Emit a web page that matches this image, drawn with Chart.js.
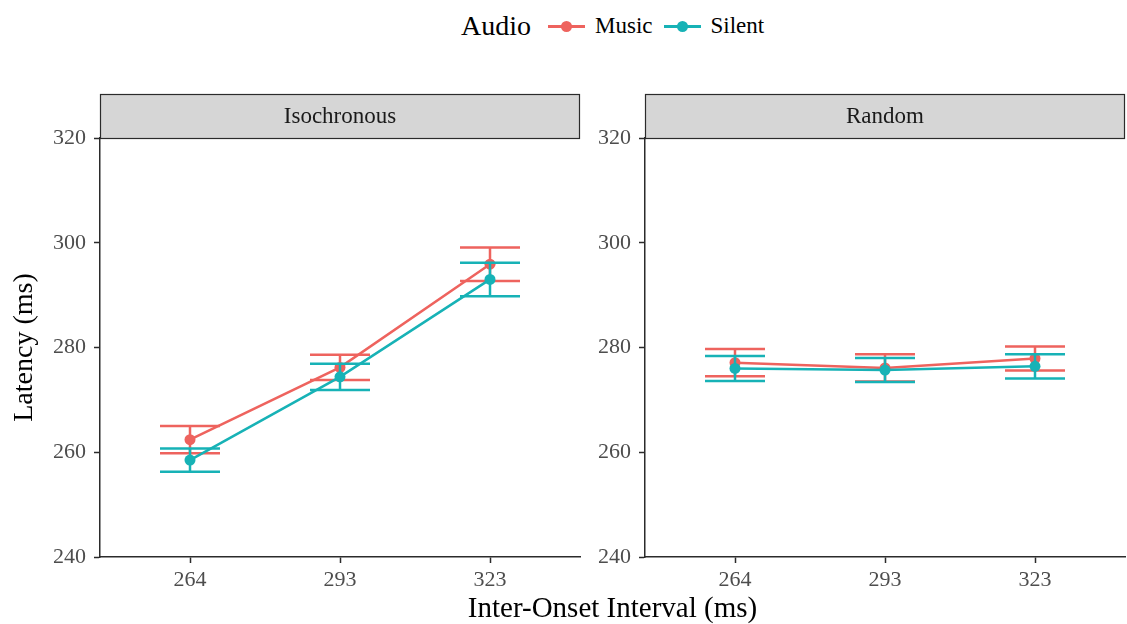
<!DOCTYPE html>
<html>
<head>
<meta charset="utf-8">
<script src="https://cdn.jsdelivr.net/npm/chart.js@4.4.1/dist/chart.umd.min.js"></script>
<style>
    body { margin: 0; background: #fff; width: 1127px; height: 624px; position: relative; overflow: hidden; font-family: 'Liberation Serif', serif; }
    .panel { position: absolute; top: 90px; height: 510px; }
    #left { left: 0; width: 582px; }
    #right { left: 545px; width: 582px; }
    #legend { position: absolute; top: 10px; left: 461px; display: flex; align-items: center; white-space: nowrap; }
    #legend .title { font-size: 28px; color: #000; margin-right: 17px; }
    #legend .lab { font-size: 23px; color: #000; margin-left: 10px; margin-right: 11px; }
    .key { position: relative; width: 37px; height: 20px; }
    .key .ln { position: absolute; left: 0; right: 0; top: 9px; height: 2.5px; }
    .key .dot { position: absolute; left: 13px; top: 5px; width: 11px; height: 11px; border-radius: 50%; }
    #xtitle { position: absolute; left: 100px; width: 1025px; top: 591px; text-align: center; font-size: 29px; color: #000; }
</style>
</head>
<body>
<div id="legend">
    <span class="title">Audio</span>
    <div class="key"><div class="ln" style="background:#EE635E"></div><div class="dot" style="background:#EE635E"></div></div>
    <span class="lab">Music</span>
    <div class="key"><div class="ln" style="background:#17B2B6"></div><div class="dot" style="background:#17B2B6"></div></div>
    <span class="lab">Silent</span>
</div>
<div class="panel" id="left"><canvas id="isoChart"></canvas></div>
<div class="panel" id="right"><canvas id="randChart"></canvas></div>
<div id="xtitle">Inter-Onset Interval (ms)</div>
<script>
// inter-onset intervals (x categories)
const ioi = ['264', '293', '323'];
const yTicks = [240, 260, 280, 300, 320];

// Isochronous panel: mean latency and error half-width
const isoMusic = [262.4, 276.2, 295.9];
const isoMusicErr = [2.6, 2.4, 3.2];
const isoSilent = [258.5, 274.4, 293.0];
const isoSilentErr = [2.2, 2.5, 3.2];

// Random panel
const randMusic = [277.1, 276.1, 277.9];
const randMusicErr = [2.6, 2.6, 2.3];
const randSilent = [276.0, 275.7, 276.4];
const randSilentErr = [2.4, 2.3, 2.3];

const MUSIC = '#EE635E';
const SILENT = '#17B2B6';
const FONT = "'Liberation Serif', serif";
const AXIS = '#2b2b2b';

// draws error bars of a dataset just before the dataset itself
const errorBars = {
    id: 'errorBars',
    beforeDatasetDraw(chart, args) {
        const ds = chart.data.datasets[args.index];
        if (!ds.err) return;
        const ctx = chart.ctx;
        const xs = chart.scales.x, ys = chart.scales.y;
        ctx.save();
        ctx.strokeStyle = ds.borderColor;
        ctx.lineWidth = 2.5;
        ds.data.forEach((p, i) => {
            const e = ds.err[i];
            const x0 = xs.getPixelForValue(p.x - 0.2);
            const x1 = xs.getPixelForValue(p.x + 0.2);
            const xc = xs.getPixelForValue(p.x);
            const yt = ys.getPixelForValue(p.y + e);
            const yb = ys.getPixelForValue(p.y - e);
            ctx.beginPath();
            ctx.moveTo(x0, yt); ctx.lineTo(x1, yt);
            ctx.moveTo(x0, yb); ctx.lineTo(x1, yb);
            ctx.moveTo(xc, yt); ctx.lineTo(xc, yb);
            ctx.stroke();
        });
        ctx.restore();
    }
};

// grey facet strip above the plot area
const strip = {
    id: 'strip',
    afterDraw(chart, args, opts) {
        const { ctx, chartArea: a } = chart;
        const top = 4;
        ctx.save();
        ctx.fillStyle = '#d6d6d6';
        ctx.fillRect(a.left, top, a.right - a.left, a.top - top);
        ctx.strokeStyle = AXIS;
        ctx.lineWidth = 1.2;
        ctx.strokeRect(a.left + 0.5, top + 0.5, a.right - a.left - 1, a.top - top);
        ctx.fillStyle = '#1a1a1a';
        ctx.font = '23px ' + FONT;
        ctx.textAlign = 'center';
        ctx.textBaseline = 'middle';
        ctx.fillText(opts.text, (a.left + a.right) / 2, (top + a.top) / 2 + 1);
        ctx.restore();
    }
};

function series(label, values, err, color, order) {
    return {
        label: label,
        data: values.map((v, i) => ({ x: i, y: v })),
        err: err,
        borderColor: color,
        backgroundColor: color,
        borderWidth: 2.5,
        pointRadius: 5.5,
        pointBorderWidth: 0,
        pointHoverRadius: 5.5,
        tension: 0,
        order: order
    };
}

function makePanel(id, title, music, musicErr, silent, silentErr, showYTitle) {
    new Chart(document.getElementById(id), {
        type: 'line',
        data: {
            datasets: [
                series('Music', music, musicErr, MUSIC, 2),
                series('Silent', silent, silentErr, SILENT, 1)
            ]
        },
        plugins: [errorBars, strip],
        options: {
            responsive: true,
            maintainAspectRatio: false,
            animation: false,
            layout: { autoPadding: false, padding: { top: 48, right: 2 } },
            plugins: { legend: { display: false }, tooltip: { enabled: false }, strip: { text: title } },
            scales: {
                x: {
                    type: 'linear',
                    min: -0.6,
                    max: 2.6,
                    afterBuildTicks: s => { s.ticks = ioi.map((_, i) => ({ value: i })); },
                    afterFit: s => { s.height = 43; },
                    ticks: { callback: v => ioi[v], color: '#4d4d4d', font: { family: FONT, size: 22 }, padding: 4, maxRotation: 0 },
                    grid: { drawOnChartArea: false, drawTicks: true, tickLength: 6, tickColor: AXIS, tickWidth: 1.5 },
                    border: { color: AXIS, width: 1.5 }
                },
                y: {
                    min: 240,
                    max: 320,
                    afterBuildTicks: s => { s.ticks = yTicks.map(v => ({ value: v })); },
                    afterFit: s => { s.width = 100; },
                    ticks: { color: '#4d4d4d', font: { family: FONT, size: 22 }, padding: 8 },
                    grid: { drawOnChartArea: false, drawTicks: true, tickLength: 6, tickColor: AXIS, tickWidth: 1.5 },
                    border: { color: AXIS, width: 1.5 },
                    title: { display: showYTitle, text: 'Latency (ms)', color: '#000', font: { family: FONT, size: 28 }, padding: { top: 8, bottom: 0 } }
                }
            }
        }
    });
}

makePanel('isoChart', 'Isochronous', isoMusic, isoMusicErr, isoSilent, isoSilentErr, true);
makePanel('randChart', 'Random', randMusic, randMusicErr, randSilent, randSilentErr, false);
</script>
</body>
</html>
